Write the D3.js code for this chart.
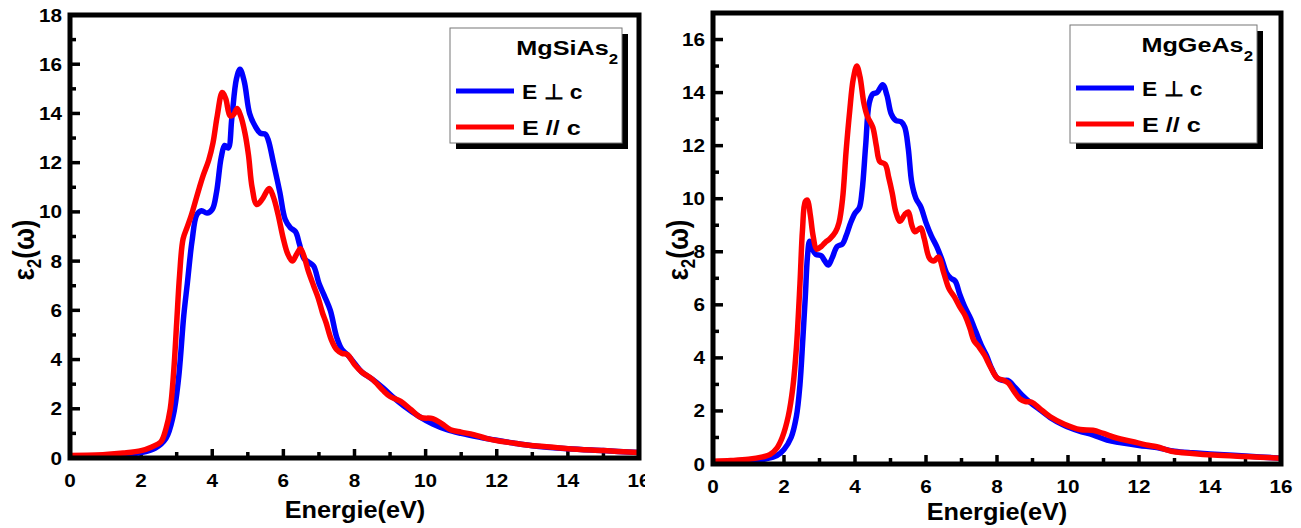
<!DOCTYPE html>
<head>
    <meta charset="utf-8">
    <script src="https://d3js.org/d3.v7.min.js"></script>
    <style>
        body { margin:0; background:white; }
        text { font-family: 'Liberation Sans', Arial, sans-serif; font-weight: bold; fill: black; }
    </style>
</head>
<body>
<script>
    // E (eV), eps2 pairs
    const siPerp = [[0,0.08],[1,0.1],[1.5,0.15],[2,0.22],[2.4,0.4],[2.7,0.8],[2.9,1.7],[3.05,3.2],[3.2,5.8],[3.3,7.1],[3.43,8.8],[3.57,9.9],[3.7,10.05],[3.85,9.95],[4.0,10.1],[4.12,10.8],[4.25,12.2],[4.35,12.7],[4.45,12.6],[4.55,13.8],[4.68,15.4],[4.78,15.8],[4.9,15.3],[5.05,14.0],[5.2,13.5],[5.35,13.2],[5.5,13.15],[5.58,12.9],[5.72,12.0],[5.9,10.8],[6.05,9.7],[6.2,9.35],[6.34,9.2],[6.45,8.7],[6.58,8.1],[6.72,7.95],[6.85,7.8],[7.0,7.1],[7.15,6.6],[7.32,6.0],[7.5,4.9],[7.65,4.4],[7.8,4.2],[8.0,3.85],[8.2,3.5],[8.5,3.2],[8.8,2.85],[9.1,2.45],[9.4,2.1],[9.8,1.7],[10.2,1.38],[10.6,1.15],[11.0,1.0],[11.5,0.85],[12.0,0.72],[12.5,0.6],[13.0,0.5],[14.0,0.38],[15.0,0.3],[16.0,0.22]];
    const siPar = [[0,0.1],[1,0.14],[1.5,0.2],[2,0.3],[2.3,0.45],[2.55,0.65],[2.7,1.2],[2.82,2.0],[2.92,3.6],[3.0,5.5],[3.08,7.4],[3.18,8.9],[3.3,9.4],[3.42,9.9],[3.6,10.8],[3.75,11.5],[3.9,12.1],[4.02,12.8],[4.14,13.9],[4.28,14.85],[4.38,14.6],[4.5,13.9],[4.6,13.95],[4.7,14.2],[4.8,13.9],[4.92,13.2],[5.02,12.3],[5.12,11.0],[5.25,10.3],[5.4,10.5],[5.6,10.95],[5.72,10.6],[5.85,9.9],[6.0,8.9],[6.12,8.3],[6.25,8.0],[6.38,8.3],[6.48,8.5],[6.58,8.2],[6.7,7.6],[6.85,7.0],[6.98,6.5],[7.1,5.9],[7.2,5.5],[7.35,4.8],[7.5,4.4],[7.65,4.25],[7.8,4.2],[8.0,3.8],[8.2,3.5],[8.5,3.2],[8.8,2.75],[9.0,2.5],[9.3,2.3],[9.6,1.95],[9.86,1.65],[10.2,1.6],[10.45,1.4],[10.7,1.15],[11.0,1.05],[11.35,0.95],[11.7,0.8],[12.1,0.68],[12.5,0.6],[12.9,0.52],[13.5,0.45],[14.0,0.38],[15.0,0.3],[16.0,0.22]];
    const gePerp = [[0,0.05],[0.5,0.08],[1,0.12],[1.5,0.2],[1.8,0.32],[2.0,0.55],[2.2,1.0],[2.35,1.8],[2.45,3.0],[2.53,4.7],[2.6,6.3],[2.66,7.8],[2.72,8.4],[2.8,8.1],[2.9,7.9],[3.05,7.85],[3.15,7.65],[3.25,7.5],[3.35,7.75],[3.5,8.2],[3.65,8.3],[3.75,8.6],[3.88,9.1],[4.0,9.45],[4.12,9.65],[4.2,10.3],[4.3,12.0],[4.4,13.6],[4.5,13.95],[4.62,14.0],[4.78,14.3],[4.9,13.9],[5.02,13.2],[5.15,12.95],[5.3,12.9],[5.4,12.7],[5.5,11.9],[5.6,10.6],[5.72,10.0],[5.85,9.7],[6.0,9.1],[6.15,8.6],[6.3,8.2],[6.45,7.7],[6.58,7.2],[6.7,7.0],[6.82,6.9],[6.95,6.4],[7.1,5.9],[7.25,5.5],[7.4,5.0],[7.55,4.5],[7.7,4.1],[7.85,3.6],[8.0,3.25],[8.15,3.15],[8.3,3.15],[8.5,2.9],[8.7,2.6],[8.95,2.3],[9.2,2.05],[9.5,1.75],[9.9,1.45],[10.3,1.25],[10.7,1.1],[11.1,0.9],[11.5,0.8],[12.0,0.7],[12.5,0.62],[13.0,0.48],[13.5,0.42],[14.0,0.38],[15.0,0.3],[16.0,0.22]];
    const gePar = [[0,0.1],[0.5,0.13],[1,0.18],[1.4,0.27],[1.6,0.35],[1.8,0.6],[1.95,1.0],[2.12,1.8],[2.25,2.9],[2.35,4.4],[2.45,6.8],[2.52,8.8],[2.6,9.9],[2.66,9.95],[2.74,9.4],[2.82,8.6],[2.92,8.1],[3.05,8.2],[3.16,8.35],[3.3,8.5],[3.45,8.75],[3.55,9.1],[3.65,10.0],[3.75,11.8],[3.85,13.3],[3.95,14.5],[4.05,15.0],[4.14,14.6],[4.25,13.6],[4.35,13.1],[4.5,12.7],[4.6,12.0],[4.7,11.4],[4.85,11.3],[4.95,10.8],[5.05,10.2],[5.15,9.5],[5.27,9.15],[5.4,9.4],[5.5,9.5],[5.6,9.0],[5.69,8.75],[5.85,8.9],[5.95,8.5],[6.1,7.75],[6.22,7.65],[6.35,7.8],[6.5,7.2],[6.65,6.6],[6.8,6.3],[6.96,5.9],[7.1,5.6],[7.24,5.1],[7.35,4.65],[7.5,4.4],[7.65,4.1],[7.8,3.7],[8.0,3.25],[8.2,3.15],[8.32,3.05],[8.5,2.7],[8.65,2.45],[8.8,2.35],[8.98,2.33],[9.2,2.1],[9.5,1.78],[9.9,1.5],[10.34,1.3],[10.7,1.27],[11.0,1.15],[11.37,0.98],[11.8,0.85],[12.2,0.72],[12.5,0.65],[12.96,0.47],[13.5,0.4],[14.1,0.34],[15.0,0.28],[16.0,0.22]];

    const xTicks = [0, 2, 4, 6, 8, 10, 12, 14, 16];
    const xMinor = [1, 3, 5, 7, 9, 11, 13, 15];
    const siYTicks = [0, 2, 4, 6, 8, 10, 12, 14, 16, 18];
    const geYTicks = [0, 2, 4, 6, 8, 10, 12, 14, 16];
    const seriesNames = ['E \u22a5 c', 'E // c'];
    const colors = ['#0000ff', '#ff0000'];

    const width = 1301, height = 528;

    const panels = [
        { name: 'MgSiAs', perp: siPerp, par: siPar, yMax: 18, yTicks: siYTicks,
          x0: 70, x1: 639, yTop: 15, yBottom: 458, clip: 645,
          ylabX: 34, xlabX: 355, xlabY: 518, legend: {x: 450, y: 28, w: 172, h: 115} },
        { name: 'MgGeAs', perp: gePerp, par: gePar, yMax: 17, yTicks: geYTicks,
          x0: 713, x1: 1281, yTop: 13, yBottom: 464, clip: 1301,
          ylabX: 688, xlabX: 997, xlabY: 520, legend: {x: 1070, y: 25, w: 187, h: 118} }
    ];

    const svg = d3.select('body').append('svg')
        .attr('width', width)
        .attr('height', height);

    panels.forEach((p, i) => drawPanel(p, i));

    function stretched(sel, x, y, sx, txt, size, anchor) {
        return sel.append('text')
            .attr('transform', `translate(${x},${y}) scale(${sx},1)`)
            .attr('text-anchor', anchor)
            .style('font-size', size + 'px')
            .text(txt);
    }

    function tickLines(sel, vals, fn, w) {
        sel.append('g').selectAll('line')
            .data(vals).enter().append('line')
            .each(function(d) {
                const c = fn(d);
                d3.select(this).attr('x1', c[0]).attr('y1', c[1]).attr('x2', c[2]).attr('y2', c[3]);
            })
            .attr('stroke', 'black')
            .attr('stroke-width', w);
    }

    function drawPanel(p, i) {
        svg.append('clipPath').attr('id', 'clip' + i)
            .append('rect').attr('x', p.x0 - 80).attr('y', 0)
            .attr('width', p.clip - p.x0 + 80).attr('height', height);

        const g = svg.append('g').attr('clip-path', `url(#clip${i})`);

        const x = d3.scaleLinear().domain([0, 16]).range([p.x0, p.x1]);
        const y = d3.scaleLinear().domain([0, p.yMax]).range([p.yBottom, p.yTop]);

        const line = d3.line()
            .x(d => x(d[0]))
            .y(d => y(d[1]))
            .curve(d3.curveCatmullRom.alpha(0.5));

        // ticks, pointing inside
        tickLines(g, xTicks, t => [x(t), p.yBottom, x(t), p.yBottom - 9], 3.5);
        tickLines(g, xMinor, t => [x(t), p.yBottom, x(t), p.yBottom - 6], 3.5);
        tickLines(g, p.yTicks, t => [p.x0, y(t), p.x0 + 10, y(t)], 3.5);
        tickLines(g, d3.range(1, p.yMax, 2), t => [p.x0, y(t), p.x0 + 6, y(t)], 3.5);

        // tick labels
        xTicks.forEach(t => stretched(g, x(t), p.yBottom + 29, 1.15, t, 18, 'middle'));
        p.yTicks.forEach(t => stretched(g, p.x0 - 8, y(t) + 6.5, 1.15, t, 18, 'end'));

        // curves
        [p.perp, p.par].forEach((d, k) => {
            g.append('path')
                .datum(d)
                .attr('fill', 'none')
                .attr('stroke', colors[k])
                .attr('stroke-width', 5.5)
                .attr('stroke-linejoin', 'round')
                .attr('d', line);
        });

        g.append('rect')
            .attr('x', p.x0).attr('y', p.yTop)
            .attr('width', p.x1 - p.x0).attr('height', p.yBottom - p.yTop)
            .attr('fill', 'none')
            .attr('stroke', 'black')
            .attr('stroke-width', 5);

        // axis titles
        stretched(g, p.xlabX, p.xlabY, 1.1, 'Energie(eV)', 23, 'middle');

        const yl = g.append('text')
            .attr('transform', `translate(${p.ylabX},250) rotate(-90) scale(1,1.15)`)
            .attr('text-anchor', 'middle')
            .style('font-size', '26px');
        yl.append('tspan').text('\u03b5');
        yl.append('tspan').attr('dy', 6).style('font-size', '17px').text('2');
        yl.append('tspan').attr('dy', -6).text('(\u03c9)');

        addLegend(g, p);
    }

    function addLegend(g, p) {
        const L = p.legend;
        g.append('rect').attr('x', L.x + 6).attr('y', L.y + 6)
            .attr('width', L.w).attr('height', L.h).attr('fill', 'black');
        g.append('rect').attr('x', L.x).attr('y', L.y)
            .attr('width', L.w).attr('height', L.h)
            .attr('fill', 'white').attr('stroke', '#777').attr('stroke-width', 1);

        const title = g.append('text')
            .attr('transform', `translate(${L.x + L.w - 4},${L.y + 27}) scale(1.2,1)`)
            .attr('text-anchor', 'end')
            .style('font-size', '21px');
        title.append('tspan').text(p.name);
        title.append('tspan').attr('dy', 9).style('font-size', '14px').text('2');

        seriesNames.forEach((s, k) => {
            const ly = L.y + 63 + k * 36;
            g.append('line')
                .attr('x1', L.x + 6).attr('x2', L.x + 64)
                .attr('y1', ly).attr('y2', ly)
                .attr('stroke', colors[k]).attr('stroke-width', 5);
            stretched(g, L.x + 72, ly + 8, k === 0 ? 1.09 : 1.2, s, 21, 'start');
        });
    }
</script>
</body>
